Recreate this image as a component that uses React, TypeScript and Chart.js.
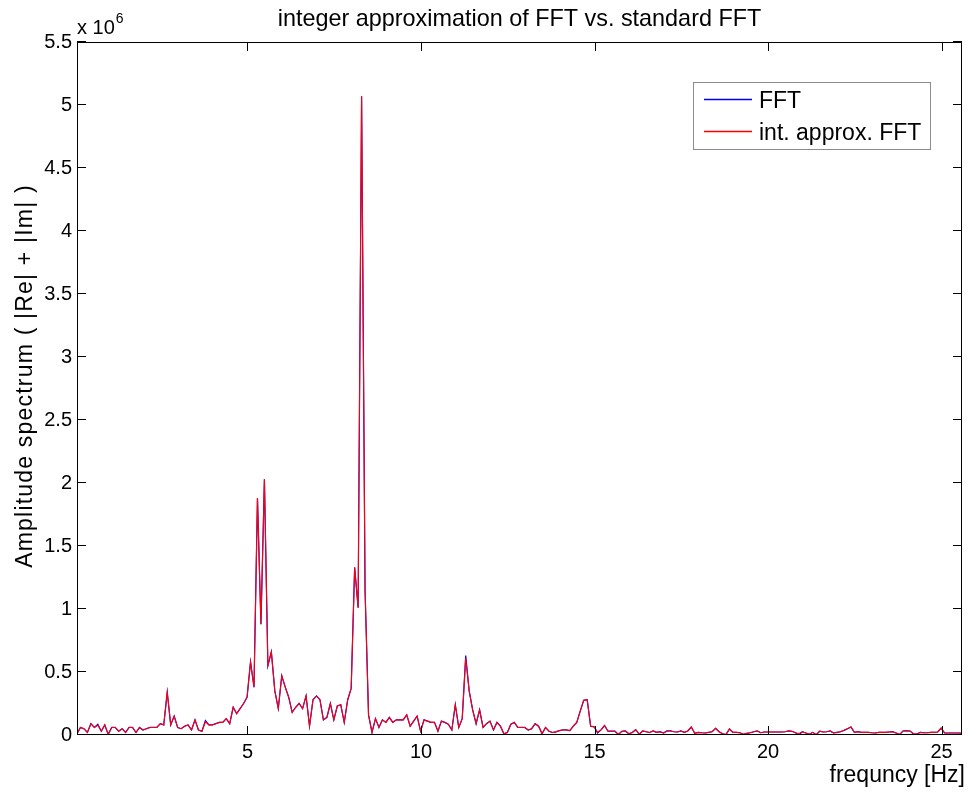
import React, { useEffect, useRef } from "react";
import { Chart, registerables } from "chart.js";

Chart.register(...registerables);

// ---- data -------------------------------------------------------------
const FREQ_START = 0.088; // Hz, first FFT bin shown
const FREQ_STEP = 0.1; // Hz per bin

// amplitude in units of 1e6
const FFT_VALUES = [
  0.01, 0.06, 0.05, 0.02, 0.09, 0.06, 0.085, 0.03, 0.08, 0.005,
  0.06, 0.06, 0.03, 0.05, 0.02, 0.06, 0.06, 0.02, 0.06, 0.04,
  0.05, 0.06, 0.06, 0.06, 0.09, 0.08, 0.34, 0.08, 0.15, 0.06,
  0.05, 0.07, 0.08, 0.04, 0.12, 0.04, 0.03, 0.115, 0.08, 0.08,
  0.09, 0.1, 0.1, 0.13, 0.09, 0.22, 0.17, 0.21, 0.25, 0.3,
  0.58, 0.38, 1.88, 0.88, 2.03, 0.55, 0.66, 0.35, 0.21, 0.47,
  0.38, 0.3, 0.18, 0.22, 0.25, 0.21, 0.31, 0.07, 0.28, 0.31,
  0.28, 0.12, 0.14, 0.25, 0.12, 0.23, 0.24, 0.1, 0.28, 0.37,
  1.33, 1.01, 5.07, 1.15, 0.16, 0.02, 0.13, 0.06, 0.12, 0.1,
  0.14, 0.1, 0.12, 0.12, 0.12, 0.16, 0.07, 0.11, 0.15, 0.03,
  0.12, 0.11, 0.1, 0.1, 0.03, 0.11, 0.1, 0.085, 0.04, 0.24,
  0.06, 0.13, 0.63, 0.35, 0.2, 0.09, 0.2, 0.06, 0.09, 0.11,
  0.04, 0.1, 0.07, 0.01, 0.02, 0.085, 0.1, 0.06, 0.06, 0.06,
  0.04, 0.05, 0.09, 0.07, 0.01, 0.06, 0.03, 0.02, 0.025, 0.035,
  0.04, 0.04, 0.035, 0.07, 0.1, 0.19, 0.275, 0.28, 0.07, 0.065,
  0.015, 0.04, 0.075, 0.03, 0.03, 0.03, 0.005, 0.03, 0.032, 0.01,
  0.02, 0.042, 0.005, 0.032, 0.026, 0.02, 0.032, 0.021, 0.026, 0.016,
  0.032, 0.032, 0.026, 0.024, 0.032, 0.021, 0.032, 0.063, 0.013, 0.021,
  0.018, 0.016, 0.021, 0.026, 0.053, 0.026, 0.01, 0.003, 0.048, 0.021,
  0.021, 0.018, 0.005, 0.013, 0.018, 0.026, 0.032, 0.018, 0.024, 0.024,
  0.024, 0.024, 0.024, 0.024, 0.026, 0.032, 0.03, 0.018, 0.0, 0.026,
  0.016, 0.005, 0.021, 0.002, 0.03, 0.024, 0.026, 0.032, 0.016, 0.021,
  0.026, 0.037, 0.05, 0.063, 0.021, 0.026, 0.021, 0.021, 0.021, 0.018,
  0.016, 0.021, 0.021, 0.021, 0.024, 0.026, 0.016, 0.003, 0.032, 0.034,
  0.032, 0.01, 0.008, 0.021, 0.018, 0.018, 0.021, 0.021, 0.024, 0.055,
  0.016, 0.016, 0.016, 0.016, 0.016, 0.013,
];

const APPROX_VALUES = [
  0.01, 0.06, 0.05, 0.02, 0.09, 0.06, 0.078, 0.03, 0.08, 0.005,
  0.06, 0.06, 0.03, 0.05, 0.02, 0.06, 0.06, 0.02, 0.06, 0.04,
  0.05, 0.06, 0.06, 0.06, 0.09, 0.08, 0.34, 0.08, 0.15, 0.06,
  0.05, 0.07, 0.08, 0.04, 0.12, 0.04, 0.03, 0.105, 0.08, 0.08,
  0.09, 0.1, 0.1, 0.13, 0.09, 0.22, 0.17, 0.21, 0.25, 0.3,
  0.58, 0.38, 1.88, 0.88, 2.03, 0.55, 0.66, 0.35, 0.21, 0.47,
  0.38, 0.3, 0.18, 0.22, 0.25, 0.21, 0.31, 0.07, 0.28, 0.31,
  0.28, 0.12, 0.14, 0.25, 0.12, 0.23, 0.24, 0.1, 0.28, 0.37,
  1.33, 1.01, 5.07, 1.15, 0.16, 0.02, 0.13, 0.06, 0.12, 0.1,
  0.14, 0.1, 0.12, 0.12, 0.12, 0.16, 0.07, 0.11, 0.15, 0.03,
  0.12, 0.11, 0.1, 0.1, 0.03, 0.11, 0.1, 0.085, 0.04, 0.24,
  0.06, 0.13, 0.61, 0.35, 0.2, 0.09, 0.2, 0.06, 0.09, 0.11,
  0.04, 0.1, 0.07, 0.01, 0.02, 0.085, 0.1, 0.06, 0.06, 0.06,
  0.04, 0.05, 0.09, 0.07, 0.01, 0.06, 0.03, 0.02, 0.025, 0.035,
  0.04, 0.04, 0.035, 0.07, 0.1, 0.19, 0.275, 0.28, 0.07, 0.065,
  0.022, 0.04, 0.075, 0.03, 0.03, 0.03, 0.005, 0.03, 0.032, 0.01,
  0.02, 0.042, 0.005, 0.032, 0.026, 0.02, 0.032, 0.021, 0.026, 0.016,
  0.032, 0.032, 0.026, 0.024, 0.032, 0.021, 0.032, 0.063, 0.013, 0.021,
  0.018, 0.016, 0.021, 0.026, 0.053, 0.026, 0.01, 0.003, 0.048, 0.021,
  0.021, 0.018, 0.005, 0.013, 0.018, 0.026, 0.032, 0.018, 0.024, 0.024,
  0.024, 0.024, 0.024, 0.024, 0.026, 0.032, 0.03, 0.018, 0.012, 0.026,
  0.016, 0.005, 0.021, 0.002, 0.03, 0.024, 0.026, 0.032, 0.016, 0.021,
  0.026, 0.037, 0.05, 0.063, 0.021, 0.026, 0.021, 0.021, 0.021, 0.018,
  0.016, 0.021, 0.021, 0.021, 0.024, 0.026, 0.016, 0.003, 0.032, 0.034,
  0.032, 0.01, 0.008, 0.021, 0.018, 0.018, 0.021, 0.021, 0.024, 0.055,
  0.016, 0.016, 0.016, 0.016, 0.016, 0.013,
];

const X_TICKS = [5, 10, 15, 20, 25];
const Y_TICKS = [0, 0.5, 1, 1.5, 2, 2.5, 3, 3.5, 4, 4.5, 5, 5.5];
const SERIES_NAMES = ["FFT", "int. approx. FFT"];
const SERIES_COLORS = ["#0000ff", "#ff0000"];
const TITLE = "integer approximation of FFT vs. standard FFT";
const X_LABEL = "frequncy [Hz]";
const Y_LABEL = "Amplitude spectrum ( |Re| + |Im| )";
const Y_EXPONENT = "6";

const FONT_FAMILY = '"Liberation Sans", Arial, Helvetica, sans-serif';

const frequencies = FFT_VALUES.map((_, i) => FREQ_START + i * FREQ_STEP);

const matlabFrame = {
  id: "matlabFrame",
  afterDraw(chart: any) {
    const ctx = chart.ctx as CanvasRenderingContext2D;
    const { left, right, top, bottom } = chart.chartArea;
    const xs = chart.scales.x;
    const ys = chart.scales.y;
    ctx.save();
    ctx.strokeStyle = "#000";
    ctx.lineWidth = 1;
    // box
    ctx.strokeRect(left + 0.5, top + 0.5, right - left - 1, bottom - top - 1);
    // inward ticks
    const tl = 9;
    ctx.beginPath();
    X_TICKS.forEach((v) => {
      const px = Math.round(xs.getPixelForValue(v)) + 0.5;
      ctx.moveTo(px, bottom);
      ctx.lineTo(px, bottom - tl);
      ctx.moveTo(px, top);
      ctx.lineTo(px, top + tl);
    });
    Y_TICKS.forEach((v) => {
      const py = Math.round(ys.getPixelForValue(v)) - 0.5;
      ctx.moveTo(left, py);
      ctx.lineTo(left + tl, py);
      ctx.moveTo(right, py);
      ctx.lineTo(right - tl, py);
    });
    ctx.stroke();

    ctx.fillStyle = "#000";
    // title
    ctx.font = `23.4px ${FONT_FAMILY}`;
    ctx.textAlign = "center";
    ctx.textBaseline = "alphabetic";
    ctx.fillText(TITLE, (left + right) / 2, 26);

    // exponent label
    ctx.font = `20px ${FONT_FAMILY}`;
    ctx.textAlign = "left";
    const base = "x 10";
    ctx.fillText(base, left, 34);
    const w = ctx.measureText(base).width;
    ctx.font = `14px ${FONT_FAMILY}`;
    ctx.fillText(Y_EXPONENT, left + w + 1, 23);

    // x label
    ctx.font = `23px ${FONT_FAMILY}`;
    ctx.textAlign = "right";
    ctx.fillText(X_LABEL, 965, 782);

    // y label
    ctx.save();
    ctx.translate(32, 376);
    ctx.rotate(-Math.PI / 2);
    ctx.textAlign = "center";
    (ctx as any).letterSpacing = "1.2px";
    ctx.fillText(Y_LABEL, 0, 0);
    (ctx as any).letterSpacing = "0px";
    ctx.restore();

    // legend
    const lx = 693, ly = 82, lw = 237, lh = 67;
    ctx.fillStyle = "#fff";
    ctx.fillRect(lx, ly, lw, lh);
    ctx.strokeStyle = "#8c8c8c";
    ctx.lineWidth = 1;
    ctx.strokeRect(lx + 0.5, ly + 0.5, lw, lh);
    const rows = [99.5, 131.5];
    ctx.font = `23px ${FONT_FAMILY}`;
    ctx.textAlign = "left";
    SERIES_NAMES.forEach((name, i) => {
      ctx.beginPath();
      ctx.strokeStyle = SERIES_COLORS[i];
      ctx.lineWidth = 1.3;
      ctx.moveTo(704, rows[i]);
      ctx.lineTo(752, rows[i]);
      ctx.stroke();
      ctx.fillStyle = "#000";
      ctx.fillText(name, 759, rows[i] + 8.5);
    });
    ctx.restore();
  },
};

export default function App() {
  const ref = useRef<HTMLCanvasElement>(null);

  useEffect(() => {
    const canvas = ref.current;
    if (!canvas) return;
    Chart.defaults.font.family = FONT_FAMILY;
    const chart = new Chart(canvas, {
      type: "line",
      data: {
        datasets: [
          {
            label: SERIES_NAMES[0],
            data: FFT_VALUES.map((v, i) => ({ x: frequencies[i], y: v })),
            borderColor: SERIES_COLORS[0],
            borderWidth: 1.2,
            pointRadius: 0,
            tension: 0,
            fill: false,
            order: 1,
          },
          {
            label: SERIES_NAMES[1],
            data: APPROX_VALUES.map((v, i) => ({ x: frequencies[i], y: v })),
            borderColor: SERIES_COLORS[1],
            borderWidth: 1.1,
            pointRadius: 0,
            tension: 0,
            fill: false,
            order: 0,
          },
        ],
      },
      options: {
        responsive: false,
        animation: false,
        devicePixelRatio: 1,
        layout: { padding: { left: 0, right: 8, top: 42, bottom: 0 } },
        plugins: {
          legend: { display: false },
          title: { display: false },
          tooltip: { enabled: false },
        },
        scales: {
          x: {
            type: "linear",
            min: frequencies[0],
            max: frequencies[frequencies.length - 1],
            grid: { display: false, drawTicks: false },
            border: { display: false },
            ticks: {
              color: "#000",
              font: { size: 20, family: FONT_FAMILY },
              padding: 5,
              maxRotation: 0,
              autoSkip: false,
              callback: (v: any) => String(v),
            },
            afterBuildTicks: (scale: any) => {
              scale.ticks = X_TICKS.map((v) => ({ value: v }));
            },
            afterFit: (scale: any) => {
              scale.height = 59;
            },
          },
          y: {
            type: "linear",
            min: Y_TICKS[0],
            max: Y_TICKS[Y_TICKS.length - 1],
            grid: { display: false, drawTicks: false },
            border: { display: false },
            ticks: {
              color: "#000",
              font: { size: 20, family: FONT_FAMILY },
              padding: 5,
              autoSkip: false,
              callback: (v: any) => String(v),
            },
            afterBuildTicks: (scale: any) => {
              scale.ticks = Y_TICKS.map((v) => ({ value: v }));
            },
            afterFit: (scale: any) => {
              scale.width = 77;
            },
          },
        },
      },
      plugins: [matlabFrame],
    });
    return () => chart.destroy();
  }, []);

  return (
    <div
      style={{
        position: "fixed",
        left: 0,
        top: 0,
        width: 970,
        height: 794,
        background: "#fff",
      }}
    >
      <canvas
        ref={ref}
        width={970}
        height={794}
        style={{ display: "block", width: 970, height: 794 }}
      />
    </div>
  );
}
